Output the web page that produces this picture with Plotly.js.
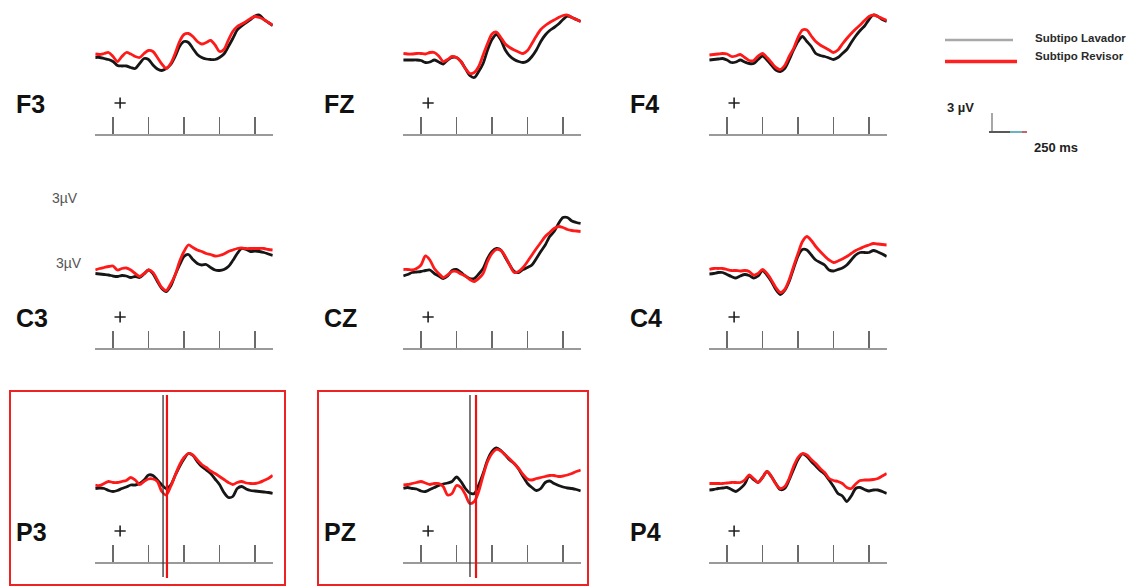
<!DOCTYPE html>
<html><head><meta charset="utf-8">
<script src="https://cdn.plot.ly/plotly-3.0.1.min.js"></script>
<style>html,body{margin:0;padding:0;background:#fff;}#chart{width:1146px;height:588px;}</style>
</head><body><div id="chart"></div>
<script>
// ---------- DATA ----------
const timesMs = [-100,-75,-50,-25,0,25,50,75,100,125,150,175,200,225,250,275,300,325,350,375,400,425,450,475,500,525,550,575,600,625,650,675,700,725,750,775,800,825,850,875,900];
const channels = ['F3','FZ','F4','C3','CZ','C4','P3','PZ','P4'];
const tickMs = [0,200,400,600,800];
const stimulusMs = 40;
const stimulusUv = -9.2;

const lavadorF3 = [-0.1,-0.1,-0.3,-0.5,-0.9,-1.7,-1.8,-1.8,-2.1,-2.3,-1.3,-0.3,-0.5,-1.6,-2.4,-2.7,-2.3,-1.5,0.1,2.1,3.1,2.9,1.7,0.5,-0.1,-0.4,-0.5,-0.5,-0.1,0.6,2.1,3.7,5.4,6.2,6.9,7.5,8.2,8.4,7.5,6.9,6.3];
const revisorF3 = [0.6,0.5,0.7,0.9,0.1,-0.9,0.1,0.9,0.6,0.1,-0.1,0.7,1.3,1.1,-0.1,-1.4,-2.3,-1.3,0.7,3.1,4.5,4.7,4.1,3.1,2.6,2.9,3.3,2.4,1.1,1.5,3.4,5.1,6.1,6.6,7.1,7.7,8.1,7.9,7.5,6.9,6.4];

const lavadorFZ = [-0.6,-0.6,-0.6,-0.6,-0.7,-1.1,-1.0,-0.6,-1.0,-1.4,-0.6,-0.1,-0.1,-0.9,-2.3,-3.7,-4.1,-2.9,-1.3,1.4,3.5,4.5,3.4,1.4,0.2,-0.5,-0.9,-1.1,-0.8,0.1,1.4,3.1,4.4,5.3,5.9,6.6,7.5,8.2,7.9,7.5,7.1];
const revisorFZ = [0.7,0.6,0.6,0.7,0.7,0.6,0.9,0.9,0.2,-0.9,-0.5,0.1,-0.1,-0.9,-2.3,-3.3,-3.1,-1.9,0.4,2.7,4.6,5.0,3.9,2.6,1.9,1.4,1.0,0.7,1.3,2.7,4.2,5.5,6.3,6.9,7.4,7.9,8.3,8.4,7.9,7.5,7.1];

const lavadorF4 = [-0.6,-0.5,-0.4,-0.3,-0.6,-1.1,-1.0,-0.6,-1.0,-1.3,-1.3,-0.5,0.2,-0.6,-1.6,-2.6,-2.9,-2.3,-0.6,1.4,3.1,4.1,3.1,2.1,0.7,0.3,0.1,-0.2,-0.5,-0.1,0.7,1.5,2.9,4.2,5.3,6.2,7.5,8.4,8.1,7.5,7.1];
const revisorF4 = [0.4,0.5,0.6,0.7,0.6,0.1,0.2,0.5,-0.1,-0.7,-0.7,0.2,0.7,-0.1,-1.1,-2.1,-2.5,-1.7,0.1,1.7,3.9,5.4,5.4,4.2,3.1,2.4,1.9,1.4,0.9,1.4,2.6,3.7,4.7,5.6,6.4,7.3,8.1,8.4,8.1,7.7,7.3];

const lavadorC3 = [-0.5,-0.6,-0.7,-0.8,-1.0,-1.1,-0.9,-1.0,-1.3,-1.1,-1.3,-0.6,0.2,-0.5,-2.1,-3.5,-4.1,-3.0,-0.8,1.2,2.9,3.3,2.3,1.5,1.2,1.3,0.7,0.2,0.1,0.3,0.9,2.1,3.5,4.5,4.3,3.9,4.0,3.9,3.7,3.4,3.1];
const revisorC3 = [0.2,0.5,0.7,0.9,1.0,0.2,0.5,0.6,0.2,-0.5,-1.1,-0.5,0.2,-0.3,-1.8,-3.3,-3.9,-2.6,-0.8,1.9,3.9,5.2,4.7,4.2,3.9,3.5,3.3,3.0,3.1,3.4,3.9,4.2,4.5,4.6,4.5,4.5,4.5,4.5,4.5,4.3,4.2];

const lavadorCZ = [-1.0,-0.7,-0.3,-0.2,-0.1,0.1,0.2,-0.5,-1.0,-1.5,-1.0,0.1,0.3,-0.3,-1.0,-1.5,-1.5,-0.6,0.5,2.5,3.9,4.5,4.2,2.7,1.2,-0.1,-0.3,0.3,0.7,1.2,2.5,3.9,5.2,6.9,7.9,9.5,10.7,10.7,10.0,9.7,9.5];
const revisorCZ = [0.3,0.3,0.2,0.5,1.2,3.0,2.2,0.5,-0.5,-1.3,-0.8,-0.1,-0.1,-0.6,-1.0,-1.7,-2.1,-1.5,-0.5,1.9,3.5,4.3,4.1,2.9,1.2,-0.3,-0.1,0.7,1.9,3.2,4.5,5.7,6.9,7.7,8.5,8.9,8.7,8.3,8.1,8.0,7.9];

const lavadorC4 = [-0.6,-0.5,-0.3,-0.3,-0.7,-1.1,-1.4,-1.0,-0.7,-0.9,-1.4,-1.0,0.1,-0.8,-2.1,-3.7,-4.7,-3.9,-2.1,0.5,3.0,4.3,4.2,3.2,2.2,1.7,1.2,0.2,0.0,0.3,0.6,1.2,2.2,3.2,3.7,3.7,3.7,4.1,3.8,3.4,2.9];
const revisorC4 = [0.3,0.5,0.5,0.5,0.3,0.1,0.1,0.0,0.1,-0.1,-0.8,-0.5,0.3,-0.5,-1.8,-3.3,-4.3,-3.7,-1.8,0.9,3.5,5.9,6.9,6.1,4.9,3.9,3.0,2.2,1.7,2.0,2.4,2.9,3.5,4.1,4.5,4.9,5.2,5.5,5.4,5.3,5.2];

const lavadorP3 = [-0.7,-0.6,-0.7,-1.1,-1.3,-1.1,-0.7,-0.4,0.0,0.0,0.3,1.0,2.0,1.9,1.0,0.0,-0.7,0.0,1.9,3.7,5.2,6.3,5.9,4.7,3.7,3.0,2.3,1.2,0.1,-1.5,-2.5,-2.3,-0.7,-0.3,-0.8,-1.1,-1.2,-1.3,-1.4,-1.5,-1.7];
const revisorP3 = [0.0,-0.1,0.3,0.7,0.5,0.5,0.7,0.9,1.5,1.0,0.1,0.7,1.2,1.2,0.7,-1.3,-2.0,-0.3,1.9,4.0,5.5,6.3,6.0,5.0,4.1,3.5,2.8,2.3,1.7,1.1,0.5,0.1,0.5,0.7,0.4,0.3,0.3,0.5,0.9,1.3,1.9];

const lavadorPZ = [-0.7,-0.5,-0.7,-0.8,-1.2,-1.3,-0.9,-0.5,-0.1,0.2,0.4,0.7,1.6,0.7,-0.7,-1.6,-1.7,0.0,2.3,5.0,6.7,7.4,6.9,6.0,5.0,4.3,3.2,1.7,0.3,-0.5,-1.1,-0.7,0.5,0.8,0.3,-0.1,-0.4,-0.6,-0.7,-0.9,-1.2];
const revisorPZ = [0.0,0.1,0.3,0.5,0.7,0.4,0.1,0.3,0.3,-0.3,-2.0,-1.7,-0.1,-0.5,-1.9,-3.7,-3.3,-1.3,1.9,4.7,6.3,7.1,6.8,6.0,5.2,4.3,3.3,2.1,1.2,1.0,1.3,1.5,1.7,1.9,1.9,1.7,1.8,2.0,2.3,2.7,3.0];

const lavadorP4 = [-1.0,-0.9,-0.7,-0.6,-0.5,-0.9,-1.3,-0.7,0.2,1.8,1.1,0.5,1.5,2.7,1.7,0.3,-0.9,-0.7,1.0,3.1,5.1,6.2,5.7,4.7,3.8,2.9,2.2,1.0,-0.3,-1.7,-2.2,-3.3,-2.2,-0.7,-0.5,-0.9,-1.2,-1.0,-1.0,-1.3,-1.7];
const revisorP4 = [0.3,0.3,0.3,0.3,0.4,0.5,0.5,0.5,1.0,2.0,1.3,0.5,1.5,2.7,1.7,0.2,-0.7,-0.3,1.3,3.7,5.5,6.3,6.0,5.1,4.3,3.3,2.5,1.3,0.9,0.7,0.3,-0.5,-0.7,0.2,0.9,1.0,1.0,1.1,1.3,1.8,2.3];

const markerChannels = ['P3','PZ'];
const markerLavadorMs = [282, 276];
const markerRevisorMs = [304, 310];

const seriesNames = ['Subtipo Lavador','Subtipo Revisor'];
const seriesColors = ['#161616','#ff1a1a'];
const lavador = {F3:lavadorF3,FZ:lavadorFZ,F4:lavadorF4,C3:lavadorC3,CZ:lavadorCZ,C4:lavadorC4,P3:lavadorP3,PZ:lavadorPZ,P4:lavadorP4};
const revisor = {F3:revisorF3,FZ:revisorFZ,F4:revisorF4,C3:revisorC3,CZ:revisorCZ,C4:revisorC4,P3:revisorP3,PZ:revisorPZ,P4:revisorP4};

// ---------- LAYOUT GEOMETRY ----------
const W = 1146, H = 588;
const colOff = [0, 308, 614];
const rowAxisY = [134, 348, 562];
const plotLeft = 95.25, plotRight = 272.75;
const pxBelow = 77, pxPerUv = 5, panelH = 150;
const boxRight = [285, 588];
const fx = px => px / W;
const fy = py => 1 - py / H;

const data = [];
const layout = {
  width: W, height: H, autosize: false,
  margin: {l:0, r:0, t:0, b:0, pad:0},
  paper_bgcolor: '#fff', plot_bgcolor: 'rgba(0,0,0,0)',
  showlegend: false,
  font: {family: 'Liberation Sans, Arial, sans-serif'},
  shapes: [], annotations: []
};

channels.forEach((ch, i) => {
  const r = Math.floor(i / 3), c = i % 3;
  const n = i + 1;
  const xa = 'xaxis' + (n === 1 ? '' : n), ya = 'yaxis' + (n === 1 ? '' : n);
  const xr = 'x' + (n === 1 ? '' : n), yr = 'y' + (n === 1 ? '' : n);
  const axisY = rowAxisY[r];
  const topPx = Math.max(0, axisY - panelH);
  const h = axisY - topPx;
  layout[xa] = {
    domain: [fx(plotLeft + colOff[c]), fx(plotRight + colOff[c])],
    range: [-100, 900], anchor: yr,
    showline: true, linecolor: '#9a9a9a', linewidth: 2,
    ticks: 'inside', ticklen: 17, tickwidth: 1.4, tickcolor: '#6a6a6a',
    tickvals: tickMs, showticklabels: false,
    showgrid: false, zeroline: false, fixedrange: true
  };
  layout[ya] = {
    domain: [fy(axisY), fy(topPx)],
    range: [-pxBelow / pxPerUv, (h - pxBelow) / pxPerUv], anchor: xr,
    visible: false, showgrid: false, zeroline: false, fixedrange: true
  };
  [lavador[ch], revisor[ch]].forEach((vals, s) => {
    data.push({
      type: 'scatter', mode: 'lines', x: timesMs, y: vals,
      xaxis: xr, yaxis: yr, name: seriesNames[s],
      line: {color: seriesColors[s], width: 2.8, shape: 'spline', smoothing: 0.8},
      hoverinfo: 'skip'
    });
  });
  data.push({
    type: 'scatter', mode: 'markers', x: [stimulusMs], y: [stimulusUv],
    xaxis: xr, yaxis: yr, hoverinfo: 'skip',
    marker: {symbol: 'cross-thin', size: 8, line: {width: 1.6, color: '#222'}}
  });
  layout.annotations.push({
    xref: 'paper', yref: 'paper', x: fx(colOff[c] + 14), y: fy(axisY - 30),
    xanchor: 'left', yanchor: 'middle', showarrow: false,
    text: '<b>' + ch + '</b>', font: {size: 25, color: '#111', family: 'Liberation Sans, Arial, sans-serif'}
  });
  const mi = markerChannels.indexOf(ch);
  if (mi >= 0) {
    layout.shapes.push({type:'line', xref: xr, yref:'paper', x0: markerLavadorMs[mi], x1: markerLavadorMs[mi],
      y0: fy(577), y1: fy(395), line:{color:'#333', width:1.3}, layer:'above'});
    layout.shapes.push({type:'line', xref: xr, yref:'paper', x0: markerRevisorMs[mi], x1: markerRevisorMs[mi],
      y0: fy(578), y1: fy(395), line:{color:'#ee1111', width:2.2}, layer:'above'});
    layout.shapes.push({type:'rect', xref:'paper', yref:'paper',
      x0: fx(colOff[c] + 10), x1: fx(boxRight[c]),
      y0: fy(585), y1: fy(391), line:{color:'#ee2222', width:2}, fillcolor:'rgba(0,0,0,0)'});
  }
});

// C3 "3µV" labels
[[50,198],[54,263]].forEach(p => layout.annotations.push({
  xref:'paper', yref:'paper', x: fx(p[0]), y: fy(p[1]), xanchor:'left', yanchor:'middle', showarrow:false,
  text:'3µV', font:{size:14, color:'#555'}
}));

// Legend (drawn)
layout.shapes.push({type:'line', xref:'paper', yref:'paper', x0:fx(945), x1:fx(1013), y0:fy(40), y1:fy(40), line:{color:'#a8a8a8', width:2.5}});
layout.shapes.push({type:'line', xref:'paper', yref:'paper', x0:fx(945), x1:fx(1017), y0:fy(61.5), y1:fy(61.5), line:{color:'#ff2020', width:3.5}});
[[seriesNames[0],38],[seriesNames[1],56]].forEach(p => layout.annotations.push({
  xref:'paper', yref:'paper', x: fx(1033), y: fy(p[1]), xanchor:'left', yanchor:'middle', showarrow:false,
  text:'<b>'+p[0]+'</b>', font:{size:11.5, color:'#2a2a2a'}
}));
// Scale bar
layout.annotations.push({xref:'paper', yref:'paper', x:fx(945), y:fy(108), xanchor:'left', yanchor:'middle', showarrow:false,
  text:'<b>3 µV</b>', font:{size:13, color:'#222', family:'Liberation Sans Narrow, Liberation Sans, Arial'}});
layout.annotations.push({xref:'paper', yref:'paper', x:fx(1032), y:fy(147), xanchor:'left', yanchor:'middle', showarrow:false,
  text:'<b>250 ms</b>', font:{size:13, color:'#222', family:'Liberation Sans Narrow, Liberation Sans, Arial'}});
layout.shapes.push({type:'line', xref:'paper', yref:'paper', x0:fx(992), x1:fx(992), y0:fy(131), y1:fy(113), line:{color:'#777', width:1.3}});
layout.shapes.push({type:'line', xref:'paper', yref:'paper', x0:fx(989), x1:fx(1010), y0:fy(132), y1:fy(132), line:{color:'#222', width:1.5}});
layout.shapes.push({type:'line', xref:'paper', yref:'paper', x0:fx(1010), x1:fx(1022), y0:fy(132), y1:fy(132), line:{color:'#3a9aa8', width:1.5}});
layout.shapes.push({type:'line', xref:'paper', yref:'paper', x0:fx(1022), x1:fx(1027), y0:fy(132), y1:fy(132), line:{color:'#b03030', width:1.5}});

Plotly.newPlot('chart', data, layout, {staticPlot: true, displayModeBar: false});
</script>
</body></html>
